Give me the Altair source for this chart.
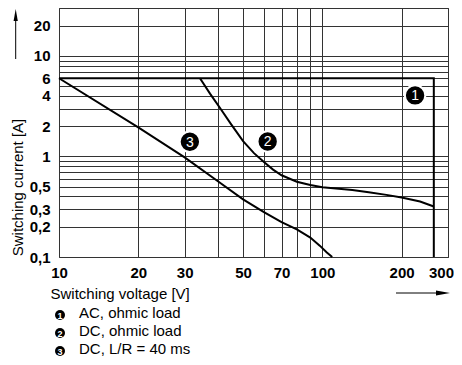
import altair as alt
import pandas as pd

FONT = "Liberation Sans"

# ---- data ----
# Curve 1: AC, ohmic load
ac_voltage = [10, 265, 265]
ac_current = [6, 6, 0.1]
# Curve 2: DC, ohmic load
dc_voltage = [34.3, 37.5, 41, 45, 50, 55, 60, 65, 70, 80, 90, 100, 130, 150, 175, 200, 235, 265]
dc_current = [6.0, 4.2, 3.0, 2.1, 1.42, 1.08, 0.88, 0.74, 0.65, 0.56, 0.52, 0.495, 0.465, 0.44, 0.415, 0.39, 0.356, 0.318]
# Curve 3: DC, L/R = 40 ms
lr_voltage = [10, 20, 30, 40, 50, 60, 70, 80, 90, 98, 104, 109]
lr_current = [6, 1.95, 0.98, 0.57, 0.375, 0.28, 0.222, 0.188, 0.156, 0.129, 0.111, 0.1]

# numbered markers placed on the chart
marker_ids = ["1", "2", "3"]
marker_voltage = [225, 62, 31.4]
marker_current = [4.05, 1.41, 1.40]

# legend below the chart
legend_ids = ["1", "2", "3"]
legend_labels = ["AC, ohmic load", "DC, ohmic load", "DC, L/R = 40 ms"]

# axes
x_grid = [10, 20, 30, 40, 50, 60, 70, 80, 90, 100, 200, 300]
x_labels = [10, 20, 30, 50, 70, 100, 200, 300]
y_grid = [0.1, 0.2, 0.3, 0.4, 0.5, 0.6, 0.7, 0.8, 0.9,
          1, 2, 3, 4, 5, 6, 7, 8, 9, 10, 20, 30]
y_labels = [0.1, 0.2, 0.3, 0.5, 1, 2, 4, 6, 10, 20]

x_title = "Switching voltage [V]"
y_title = "Switching current [A]"

# ---- tables ----
rows = []
for name, vs, cs in [("1", ac_voltage, ac_current),
                     ("2", dc_voltage, dc_current),
                     ("3", lr_voltage, lr_current)]:
    for i, (v, c) in enumerate(zip(vs, cs)):
        rows.append({"series": name, "voltage": v, "current": c, "order": i})
curves = pd.DataFrame(rows)
markers = pd.DataFrame({"id": marker_ids, "voltage": marker_voltage, "current": marker_current})

W, H = 389, 249

x_scale = alt.Scale(type="log", domain=[10, 300], nice=False, zero=False)
y_scale = alt.Scale(type="log", domain=[0.1, 30], nice=False, zero=False)

x_label_expr = "indexof(%s, datum.value) >= 0 ? toString(datum.value) : ''" % str(x_labels)
y_label_expr = ("indexof(%s, datum.value) >= 0 ? replace(toString(datum.value), '.', ',') : ''"
                % str(y_labels))

x_axis = alt.Axis(values=x_grid, labelExpr=x_label_expr, grid=True, ticks=False, domain=False,
                  labelFontWeight="bold", labelFontSize=15, labelPadding=8, labelFlush=False,
                  labelOverlap=False,
                  labelOffset={"condition": {"test": "datum.value == 300", "value": -7}, "value": 0},
                  title=x_title, titleX=-9, titleY=36, titleAlign="left", titleAnchor="start",
                  titleBaseline="middle", titleFontWeight="normal", titleFontSize=15)
y_axis = alt.Axis(values=y_grid, labelExpr=y_label_expr, grid=True, ticks=False, domain=False,
                  labelFontWeight="bold", labelFontSize=15, labelPadding=9, labelFlush=False,
                  labelOverlap=False,
                  title=y_title, titleAngle=270, titleX=-42, titleY=179, titleAlign="center",
                  titleBaseline="middle", titleFontWeight="normal", titleFontSize=15)


def X():
    return alt.X("voltage:Q", scale=x_scale, axis=x_axis)


def Y():
    return alt.Y("current:Q", scale=y_scale, axis=y_axis)


lines = alt.Chart(curves).mark_line(color="black", strokeWidth=2).encode(
    x=X(), y=Y(), detail="series:N", order="order:Q")

bubbles = alt.Chart(markers).mark_circle(size=415, color="black", opacity=1,
                                         stroke="white", strokeWidth=2).encode(x=X(), y=Y())
bubble_text = alt.Chart(markers).mark_text(color="white", fontSize=14, font=FONT,
                                           baseline="middle", dy=1).encode(
    x=X(), y=Y(), text="id:N")

layers = [lines, bubbles, bubble_text]

# legend below the chart
one = pd.DataFrame({"a": [0]})
for i, (lid, lab) in enumerate(zip(legend_ids, legend_labels)):
    ty = 305 + 18 * i
    layers.append(alt.Chart(pd.DataFrame({"t": [lid]})).mark_circle(
        size=100, color="black", opacity=1).encode(x=alt.value(1), y=alt.value(ty + 2)))
    layers.append(alt.Chart(pd.DataFrame({"t": [lid]})).mark_text(
        color="white", fontSize=9, fontWeight="bold", font=FONT, baseline="middle", dy=0.5).encode(
        x=alt.value(1), y=alt.value(ty + 2), text="t:N"))
    layers.append(alt.Chart(pd.DataFrame({"t": [lab]})).mark_text(
        color="black", fontSize=15, font=FONT, align="left", baseline="middle").encode(
        x=alt.value(20), y=alt.value(ty), text="t:N"))

# arrows
layers.append(alt.Chart(one).mark_rule(color="black", strokeWidth=1).encode(
    x=alt.value(337), x2=alt.value(380), y=alt.value(285)))
layers.append(alt.Chart(one).mark_point(shape="M-1,-0.35L1,0L-1,0.35Z", filled=True,
                                        size=196, color="black", opacity=1).encode(
    x=alt.value(384), y=alt.value(285)))
layers.append(alt.Chart(one).mark_rule(color="black", strokeWidth=1).encode(
    x=alt.value(-43.3), y=alt.value(10), y2=alt.value(51)))
layers.append(alt.Chart(one).mark_point(shape="M-0.35,1L0,-1L0.35,1Z", filled=True,
                                        size=144, color="black", opacity=1).encode(
    x=alt.value(-43.3), y=alt.value(7)))

chart = alt.layer(*layers).properties(
    width=W, height=H,
    autosize=alt.AutoSizeParams(type="none"),
    padding={"left": 51, "top": 0, "right": 6, "bottom": 100},
).configure_view(stroke="#444", strokeWidth=1).configure_axis(
    gridColor="#333", gridWidth=1, gridOpacity=1,
    labelFont=FONT, titleFont=FONT, labelColor="black", titleColor="black",
).configure_text(font=FONT)

chart.save("out.html", embed_options={"renderer": "svg", "actions": False})
